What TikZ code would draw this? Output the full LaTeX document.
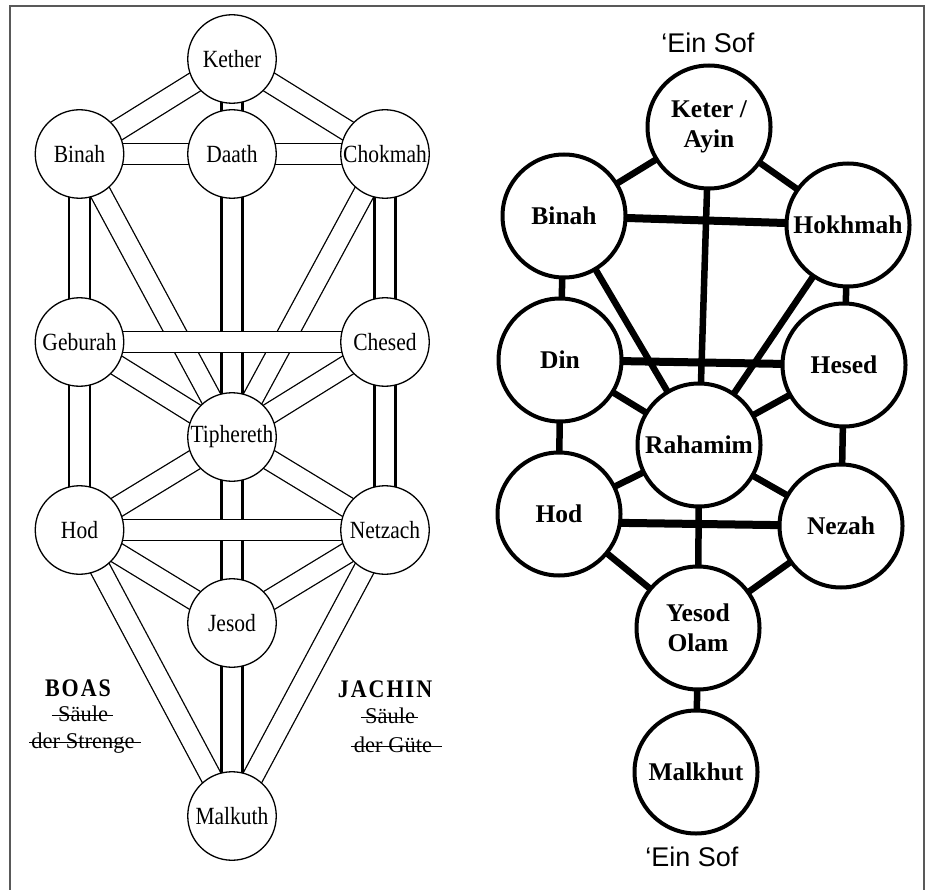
\documentclass[tikz,border=0pt]{standalone}
\usepackage{fontspec}
\usepackage{graphicx}
\setmainfont{Liberation Serif}
\newfontfamily\sansf{Liberation Sans}
\usetikzlibrary{backgrounds}
\newcommand\tallt[1]{\scalebox{1}[1.15]{#1}}
\begin{document}
\begin{tikzpicture}[x=1pt,y=-1pt,
  lnode/.style={circle, draw, line width=1.3pt, fill=white, minimum size=88.5pt, inner sep=0pt,
    font=\fontsize{21.5}{22}\selectfont},
  rnode/.style={circle, draw, line width=4pt, fill=white, minimum size=123pt, inner sep=0pt,
    font=\bfseries\fontsize{25.5}{30}\selectfont, align=center},
  chan/.style={line width=1.3pt, double=white, double distance=19.5pt},
  pillar/.style={line width=2.6pt, double=white, double distance=18.5pt},
  rline/.style={line width=6.5pt},
  rhline/.style={line width=8pt},
  lbl/.style={font=\fontsize{22.5}{23}\selectfont, inner sep=0pt},
  pname/.style={font=\bfseries\fontsize{22}{22}\selectfont, inner sep=0pt},
  strike/.style={line width=1.4pt},
  frame/.style={draw=black!65, line width=2pt}
]
\useasboundingbox (0,0) rectangle (928,890);
\draw[frame] (10,890) -- (10,6.5) -- (923.5,6.5) -- (923.5,890);

% ---------------- left tree ----------------
\node[lnode] (kether) at (232,59) {\tallt{Kether}};
\node[lnode] (binah) at (79.5,154) {\tallt{Binah}};
\node[lnode] (daath) at (232,154) {\tallt{Daath}};
\node[lnode] (chokmah) at (385,154) {\tallt{Chokmah}};
\node[lnode] (geburah) at (79.5,342) {\tallt{Geburah}};
\node[lnode] (chesed) at (385,342) {\tallt{Chesed}};
\node[lnode] (tiphereth) at (232,437) {\tallt{Tiphereth}};
\node[lnode] (hod) at (79.5,530) {\tallt{Hod}};
\node[lnode] (netzach) at (385,530) {\tallt{Netzach}};
\node[lnode] (jesod) at (232,623) {\tallt{Jesod}};
\node[lnode] (malkuth) at (232,816) {\tallt{Malkuth}};

\begin{scope}[on background layer]
  % diagonal paths
  \draw[chan] (kether.center) -- (binah.center);
  \draw[chan] (kether.center) -- (chokmah.center);
  \draw[chan] (binah.center) -- (tiphereth.center);
  \draw[chan] (chokmah.center) -- (tiphereth.center);
  \draw[chan] (geburah.center) -- (tiphereth.center);
  \draw[chan] (chesed.center) -- (tiphereth.center);
  \draw[chan] (hod.center) -- (tiphereth.center);
  \draw[chan] (netzach.center) -- (tiphereth.center);
  \draw[chan] (hod.center) -- (jesod.center);
  \draw[chan] (netzach.center) -- (jesod.center);
  \draw[chan] (hod.center) -- (malkuth.center);
  \draw[chan] (netzach.center) -- (malkuth.center);
  % vertical pillars
  \draw[pillar] (kether.center) -- (daath.center);
  \draw[pillar] (binah.center) -- (geburah.center);
  \draw[pillar] (geburah.center) -- (hod.center);
  \draw[pillar] (chokmah.center) -- (chesed.center);
  \draw[pillar] (chesed.center) -- (netzach.center);
  \draw[pillar] (daath.center) -- (tiphereth.center);
  \draw[pillar] (tiphereth.center) -- (jesod.center);
  \draw[pillar] (jesod.center) -- (malkuth.center);
  % horizontal paths
  \draw[chan] (binah.center) -- (daath.center);
  \draw[chan] (daath.center) -- (chokmah.center);
  \draw[chan] (geburah.center) -- (chesed.center);
  \draw[chan] (hod.center) -- (netzach.center);
\end{scope}

% pillar labels
\node[pname] (boas) at (78,688) {\tallt{B\kern2pt O\kern2pt A\kern2pt S}};
\node[lbl] (sl) at (83,714) {Säule};
\node[lbl] (dsl) at (83,743) {der Strenge};
\node[pname] (jachin) at (385,689) {\tallt{J\kern2pt A\kern2pt C\kern2pt H\kern2pt I\kern2pt N}};
\node[lbl] (sr) at (390,716) {Säule};
\node[lbl] (dsr) at (393,745) {der Güte};
\draw[strike] ([xshift=-6pt,yshift=6pt]sl.base west) -- ([xshift=5pt,yshift=6pt]sl.base east);
\draw[strike] ([xshift=-2pt,yshift=6pt]dsl.base west) -- ([xshift=6pt,yshift=6pt]dsl.base east);
\draw[strike] ([xshift=-4pt,yshift=6pt]sr.base west) -- ([xshift=3pt,yshift=6pt]sr.base east);
\draw[strike] ([xshift=-3pt,yshift=6pt]dsr.base west) -- ([xshift=10pt,yshift=6pt]dsr.base east);

% ---------------- right tree ----------------
\node[font=\sansf\fontsize{27}{27}\selectfont, inner sep=0pt] (einsoftop) at (708,43) {‘Ein Sof};
\node[font=\sansf\fontsize{27}{27}\selectfont, inner sep=0pt] (einsofbot) at (692,857) {‘Ein Sof};

\node[rnode] (keter) at (709,127) {Keter /\\Ayin};
\node[rnode] (binahR) at (564,216) {Binah};
\node[rnode] (hokhmah) at (848,225) {Hokhmah};
\node[rnode] (din) at (560,360) {Din};
\node[rnode] (hesed) at (844,365) {Hesed};
\node[rnode] (rahamim) at (699,445) {Rahamim};
\node[rnode] (hodR) at (559,514) {Hod};
\node[rnode] (nezah) at (841,526) {Nezah};
\node[rnode] (yesod) at (698,628) {Yesod\\Olam};
\node[rnode] (malkhut) at (696,772) {Malkhut};

\begin{scope}[on background layer]
  \draw[rline] (keter.center) -- (binahR.center);
  \draw[rline] (keter.center) -- (hokhmah.center);
  \draw[rline] (keter.center) -- (rahamim.center);
  \draw[rline] (binahR.center) -- (rahamim.center);
  \draw[rline] (hokhmah.center) -- (rahamim.center);
  \draw[rline] (binahR.center) -- (din.center);
  \draw[rline] (hokhmah.center) -- (hesed.center);
  \draw[rline] (din.center) -- (rahamim.center);
  \draw[rline] (hesed.center) -- (rahamim.center);
  \draw[rline] (din.center) -- (hodR.center);
  \draw[rline] (hesed.center) -- (nezah.center);
  \draw[rline] (hodR.center) -- (rahamim.center);
  \draw[rline] (nezah.center) -- (rahamim.center);
  \draw[rline] (rahamim.center) -- (yesod.center);
  \draw[rline] (hodR.center) -- (yesod.center);
  \draw[rline] (nezah.center) -- (yesod.center);
  \draw[rline] (yesod.center) -- (malkhut.center);
  \draw[rhline] (binahR.center) -- (hokhmah.center);
  \draw[rhline] (din.center) -- (hesed.center);
  \draw[rhline] ([yshift=-8pt]hodR.center) -- (nezah.center);
\end{scope}
\end{tikzpicture}
\end{document}
